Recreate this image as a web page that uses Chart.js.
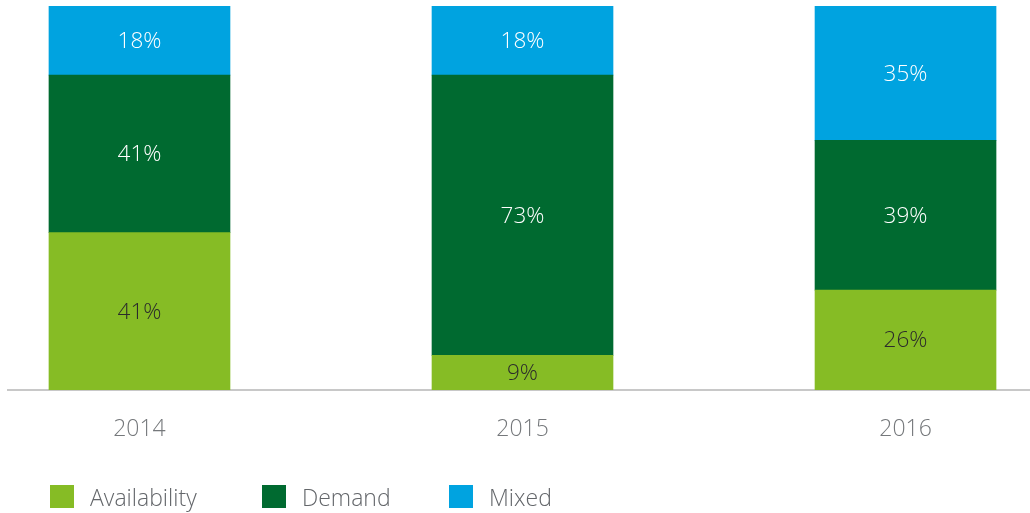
<!DOCTYPE html>
<html>
<head>
<meta charset="utf-8">
<script src="https://cdn.jsdelivr.net/npm/chart.js@4"></script>
<style>
  html, body { margin: 0; padding: 0; background: #fff; }
  #wrap { position: relative; width: 1030px; height: 513px; }
  #legend { position: absolute; left: 50px; top: 485px; height: 23px; display: flex; align-items: center;
            font-family: "Open Sans", sans-serif; font-weight: 300; font-size: 23px; color: #63666A; }
  .item { display: flex; align-items: center; }
  .item:nth-child(1) { width: 212px; }
  .item:nth-child(2) { width: 187px; }
  .box { width: 24px; height: 23px; margin-right: 16px; flex: none; }
</style>
</head>
<body>
<div id="wrap">
  <canvas id="c" width="1030" height="513"></canvas>
  <div id="legend"></div>
</div>
<script>
const categories = ["2014", "2015", "2016"];
const availability = [41, 9, 26];
const demand = [41, 73, 39];
const mixed = [18, 18, 35];
const seriesNames = ["Availability", "Demand", "Mixed"];
const seriesColors = ["#86BC25", "#006A30", "#00A3E0"];
const labelColors = ["#2b2b2b", "#ffffff", "#ffffff"];

const toPoints = arr => arr.map((v, i) => ({ x: i, y: v }));

const valueLabels = {
  id: 'valueLabels',
  afterDatasetsDraw(chart) {
    const ctx = chart.ctx;
    ctx.save();
    ctx.font = '300 22.5px "Open Sans", sans-serif';
    ctx.textAlign = 'center';
    ctx.textBaseline = 'middle';
    chart.data.datasets.forEach((ds, di) => {
      const meta = chart.getDatasetMeta(di);
      meta.data.forEach((bar, i) => {
        const v = ds.data[i].y;
        const cy = (bar.y + bar.base) / 2;
        ctx.fillStyle = labelColors[di];
        ctx.fillText(v + '%', bar.x, cy + 1);
      });
    });
    ctx.restore();
  }
};

new Chart(document.getElementById('c'), {
  type: 'bar',
  data: {
    datasets: [
      { label: seriesNames[0], data: toPoints(availability), backgroundColor: seriesColors[0] },
      { label: seriesNames[1], data: toPoints(demand), backgroundColor: seriesColors[1] },
      { label: seriesNames[2], data: toPoints(mixed), backgroundColor: seriesColors[2] }
    ]
  },
  options: {
    responsive: false,
    animation: false,
    layout: { padding: { top: 6, left: 8, right: 0, bottom: 0 } },
    datasets: { bar: { barThickness: 181, borderWidth: 0 } },
    plugins: { legend: { display: false }, tooltip: { enabled: false } },
    scales: {
      x: {
        type: 'linear',
        stacked: true,
        offset: false,
        bounds: 'data',
        min: -0.3433,
        max: 2.325,
        afterBuildTicks: s => { s.ticks = categories.map((c, i) => ({ value: i })); },
        afterFit: s => { s.height = 123; },
        ticks: {
          callback: v => categories[v],
          font: { family: '"Open Sans", sans-serif', weight: 300, size: 23 },
          color: '#75787B',
          padding: 26,
          maxRotation: 0,
          autoSkip: false
        },
        grid: { display: false, drawTicks: false, offset: false },
        border: { display: true, color: '#C8C8C8', width: 2 }
      },
      y: {
        stacked: true,
        min: 0,
        max: 100,
        display: false
      }
    }
  },
  plugins: [valueLabels]
});

const legend = document.getElementById('legend');
seriesNames.forEach((n, i) => {
  const it = document.createElement('div');
  it.className = 'item';
  const b = document.createElement('div');
  b.className = 'box';
  b.style.background = seriesColors[i];
  const t = document.createElement('span');
  t.textContent = n;
  it.appendChild(b); it.appendChild(t);
  legend.appendChild(it);
});
</script>
</body>
</html>
